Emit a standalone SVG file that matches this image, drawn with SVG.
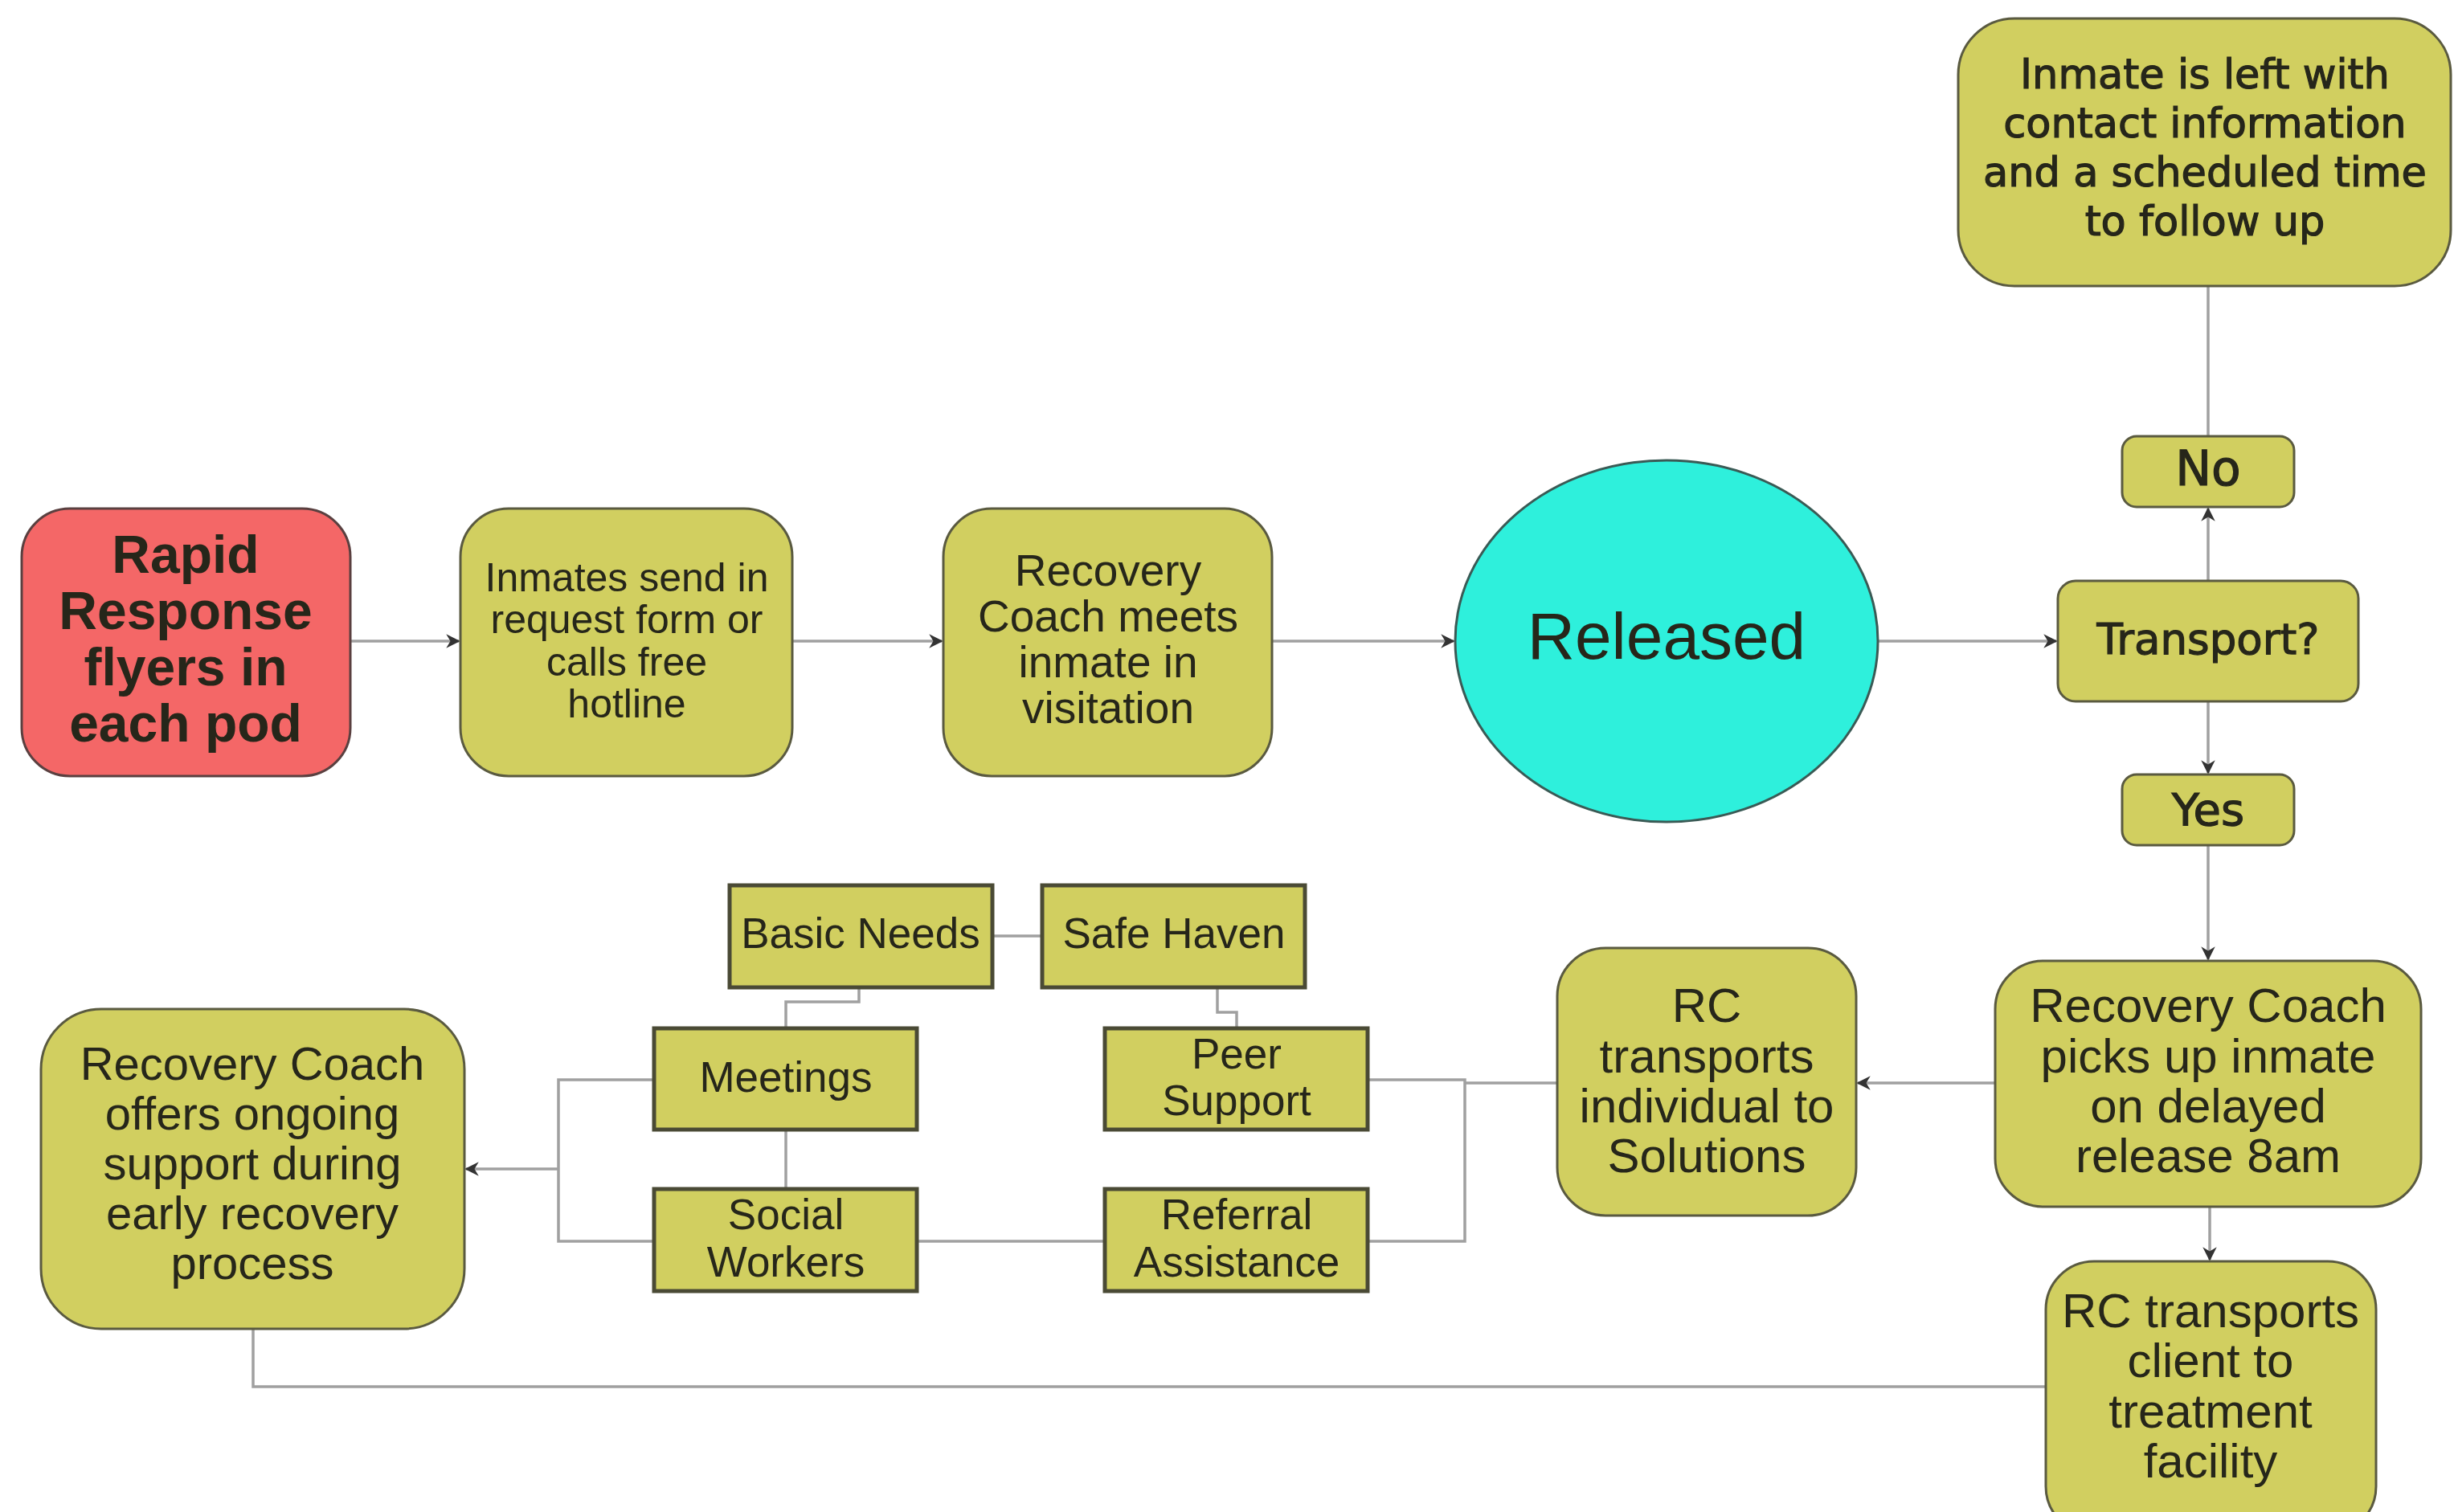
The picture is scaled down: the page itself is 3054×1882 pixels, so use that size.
<svg xmlns="http://www.w3.org/2000/svg" width="3054" height="1882" viewBox="0 0 3054 1882">
<style>
.box{fill:#d1cf60;stroke:#5a5a40;stroke-width:3}
.sq{fill:#d1cf60;stroke:#4a4a35;stroke-width:5}
.t{font-family:"Liberation Sans",Arial,sans-serif;fill:#26261a;text-anchor:middle}
.v{font-family:"DejaVu Sans",Verdana,sans-serif;fill:#26261a;stroke:#26261a;stroke-width:1.2;text-anchor:middle}
.c{fill:none;stroke:#a0a0a0;stroke-width:3.5}
.ca{fill:none;stroke:#a0a0a0;stroke-width:3.5;marker-end:url(#ah)}
</style>
<defs>
<marker id="ah" viewBox="0 0 10 10" refX="9" refY="5" markerWidth="5" markerHeight="5" orient="auto" markerUnits="strokeWidth">
<path d="M0,0 L10,5 L0,10 L3,5 z" fill="#333"/>
</marker>
</defs>
<rect width="3054" height="1882" fill="#ffffff"/>
<g id="connectors">
<path class="ca" d="M436,798 H571"/>
<path class="ca" d="M986,798 H1172"/>
<path class="ca" d="M1583,798 H1809"/>
<path class="ca" d="M2337,798 H2559"/>
<path class="ca" d="M2748,723 V633"/>
<path class="c" d="M2748,543 V356"/>
<path class="ca" d="M2748,873 V962"/>
<path class="ca" d="M2748,1052 V1194"/>
<path class="ca" d="M2483,1348 H2312"/>
<path class="ca" d="M2750,1502 V1568"/>
<path class="c" d="M1938,1348 H1823"/>
<path class="c" d="M1702,1344 H1823 V1545 H1702"/>
<path class="c" d="M1141,1545 H1375"/>
<path class="c" d="M978,1406 V1480"/>
<path class="c" d="M1235,1165 H1297"/>
<path class="c" d="M1069,1229 V1247 H978 V1280"/>
<path class="c" d="M1515,1229 V1260 H1539 V1280"/>
<path class="c" d="M814,1344 H695 V1545 H814"/>
<path class="ca" d="M695,1455 H580"/>
<path class="c" d="M2546,1726 H315 V1654"/>
</g>
<g id="n-rapid">
<rect x="27" y="633" width="409" height="333" rx="60" fill="#f46767" stroke="#5a4040" stroke-width="3"/>
<text class="t" font-weight="bold" font-size="66" x="231"><tspan x="231" y="713">Rapid</tspan><tspan x="231" y="783">Response</tspan><tspan x="231" y="853">flyers in</tspan><tspan x="231" y="923">each pod</tspan></text>
</g>
<g id="n-inmates">
<rect class="box" x="573" y="633" width="413" height="333" rx="60"/>
<text class="t" font-size="50"><tspan x="780" y="736">Inmates send in</tspan><tspan x="780" y="788">request form or</tspan><tspan x="780" y="841">calls free</tspan><tspan x="780" y="893">hotline</tspan></text>
</g>
<g id="n-meets">
<rect class="box" x="1174" y="633" width="409" height="333" rx="60"/>
<text class="t" font-size="55"><tspan x="1379" y="729">Recovery</tspan><tspan x="1379" y="786">Coach meets</tspan><tspan x="1379" y="843">inmate in</tspan><tspan x="1379" y="900">visitation</tspan></text>
</g>
<g id="n-released">
<ellipse cx="2074" cy="798" rx="263" ry="225" fill="#2ef0dc" stroke="#3a5a55" stroke-width="3"/>
<text class="t" font-size="82" x="2074" y="820">Released</text>
</g>
<g id="n-transport">
<rect class="box" x="2561" y="723" width="374" height="150" rx="22"/>
<text class="v" font-size="53" x="2748" y="814">Transport?</text>
</g>
<g id="n-no">
<rect class="box" x="2641" y="543" width="214" height="88" rx="18"/>
<text class="v" font-size="60" x="2748" y="604">No</text>
</g>
<g id="n-left">
<rect class="box" x="2437" y="23" width="613" height="333" rx="70"/>
<text class="v" font-size="51"><tspan x="2744" y="110">Inmate is left with</tspan><tspan x="2744" y="171">contact information</tspan><tspan x="2744" y="232">and a scheduled time</tspan><tspan x="2744" y="293">to follow up</tspan></text>
</g>
<g id="n-yes">
<rect class="box" x="2641" y="964" width="214" height="88" rx="18"/>
<text class="v" font-size="56" x="2748" y="1027">Yes</text>
</g>
<g id="n-pickup">
<rect class="box" x="2483" y="1196" width="530" height="306" rx="60"/>
<text class="t" font-size="60"><tspan x="2748" y="1272">Recovery Coach</tspan><tspan x="2748" y="1335">picks up inmate</tspan><tspan x="2748" y="1397">on delayed</tspan><tspan x="2748" y="1459">release 8am</tspan></text>
</g>
<g id="n-client">
<rect class="box" x="2546" y="1570" width="411" height="340" rx="60"/>
<text class="t" font-size="60"><tspan x="2751" y="1652">RC transports</tspan><tspan x="2751" y="1714">client to</tspan><tspan x="2751" y="1777">treatment</tspan><tspan x="2751" y="1839">facility</tspan></text>
</g>
<g id="n-solutions">
<rect class="box" x="1938" y="1180" width="372" height="333" rx="60"/>
<text class="t" font-size="60"><tspan x="2124" y="1272">RC</tspan><tspan x="2124" y="1335">transports</tspan><tspan x="2124" y="1397">individual to</tspan><tspan x="2124" y="1459">Solutions</tspan></text>
</g>
<g id="n-offers">
<rect class="box" x="51" y="1256" width="527" height="398" rx="75"/>
<text class="t" font-size="58"><tspan x="314" y="1344">Recovery Coach</tspan><tspan x="314" y="1406">offers ongoing</tspan><tspan x="314" y="1468">support during</tspan><tspan x="314" y="1530">early recovery</tspan><tspan x="314" y="1592">process</tspan></text>
</g>
<g id="n-basic">
<rect class="sq" x="908" y="1102" width="327" height="127"/>
<text class="t" font-size="53" x="1071" y="1180">Basic Needs</text>
</g>
<g id="n-safe">
<rect class="sq" x="1297" y="1102" width="327" height="127"/>
<text class="t" font-size="53" x="1461" y="1180">Safe Haven</text>
</g>
<g id="n-meetings">
<rect class="sq" x="814" y="1280" width="327" height="126"/>
<text class="t" font-size="53" x="978" y="1359">Meetings</text>
</g>
<g id="n-peer">
<rect class="sq" x="1375" y="1280" width="327" height="126"/>
<text class="t" font-size="53"><tspan x="1539" y="1330">Peer</tspan><tspan x="1539" y="1388">Support</tspan></text>
</g>
<g id="n-social">
<rect class="sq" x="814" y="1480" width="327" height="127"/>
<text class="t" font-size="53"><tspan x="978" y="1530">Social</tspan><tspan x="978" y="1589">Workers</tspan></text>
</g>
<g id="n-referral">
<rect class="sq" x="1375" y="1480" width="327" height="127"/>
<text class="t" font-size="53"><tspan x="1539" y="1530">Referral</tspan><tspan x="1539" y="1589">Assistance</tspan></text>
</g>
</svg>
